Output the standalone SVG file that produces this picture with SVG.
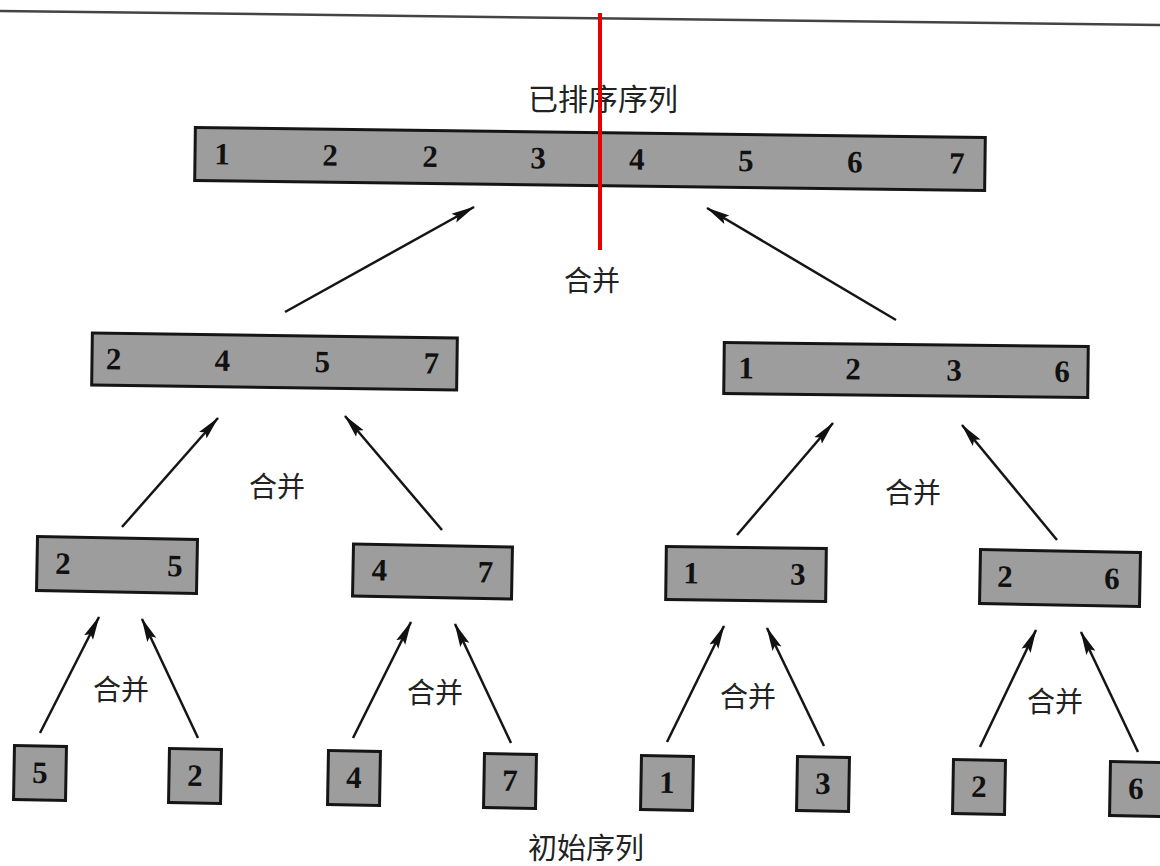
<svg xmlns="http://www.w3.org/2000/svg" width="1160" height="866" viewBox="0 0 1160 866">
  <defs>
    <marker id="head" viewBox="0 0 24 12" refX="23" refY="6" markerWidth="24" markerHeight="12" markerUnits="userSpaceOnUse" orient="auto">
      <path d="M0,1 L24,6 L0,11 L4,6 Z" fill="#111"/>
    </marker>
    <style>
      .box { fill: #9d9d9d; stroke: #151515; stroke-width: 3; }
      .num { font-family: "Liberation Serif", serif; font-weight: bold; font-size: 31px; fill: #111; text-anchor: middle; }
      .cap { font-family: "Noto Sans CJK SC", "Noto Sans", sans-serif; font-size: 28px; fill: #222; text-anchor: middle; }
      .edge { stroke: #151515; stroke-width: 2.5; fill: none; marker-end: url(#head); }
    </style>
  </defs>
  <rect width="1160" height="866" fill="#fff"/>

  <!-- page rule -->
  <line x1="0" y1="11" x2="1160" y2="25" stroke="#444" stroke-width="2.5"/>

  <!-- captions -->
  <text class="cap" x="603" y="110" style="font-size:30px">已排序序列</text>
  <text class="cap" x="592" y="291">合并</text>
  <text class="cap" x="277" y="497">合并</text>
  <text class="cap" x="913" y="503">合并</text>
  <text class="cap" x="121" y="700">合并</text>
  <text class="cap" x="435" y="703">合并</text>
  <text class="cap" x="748" y="707">合并</text>
  <text class="cap" x="1055" y="712">合并</text>
  <text class="cap" x="586" y="859" style="font-size:29px">初始序列</text>

  <!-- sorted sequence -->
  <g id="sorted" transform="translate(590,159) rotate(0.73)">
    <rect class="box" x="-395" y="-26.5" width="790" height="53"/>
    <text class="num" x="-368" y="10">1</text>
    <text class="num" x="-260" y="10">2</text>
    <text class="num" x="-160" y="10">2</text>
    <text class="num" x="-52" y="10">3</text>
    <text class="num" x="47" y="10">4</text>
    <text class="num" x="156" y="10">5</text>
    <text class="num" x="265" y="10">6</text>
    <text class="num" x="367" y="10">7</text>
  </g>

  <!-- second level -->
  <g id="m2457" transform="translate(274.5,361.5) rotate(0.78)">
    <rect class="box" x="-182.5" y="-26" width="365" height="52"/>
    <text class="num" x="-161" y="10">2</text>
    <text class="num" x="-52" y="10">4</text>
    <text class="num" x="48" y="10">5</text>
    <text class="num" x="157" y="10">7</text>
  </g>
  <g id="m1236" transform="translate(906,370) rotate(0.63)">
    <rect class="box" x="-182" y="-25.5" width="364" height="51"/>
    <text class="num" x="-160" y="10">1</text>
    <text class="num" x="-53" y="10">2</text>
    <text class="num" x="48" y="10">3</text>
    <text class="num" x="156" y="10">6</text>
  </g>

  <!-- third level -->
  <g id="m25" transform="translate(117,565) rotate(1.07)">
    <rect class="box" x="-80" y="-27" width="160" height="54"/>
    <text class="num" x="-54" y="10">2</text>
    <text class="num" x="58" y="10">5</text>
  </g>
  <g id="m47" transform="translate(432.5,571.5) rotate(1.07)">
    <rect class="box" x="-79.5" y="-26" width="159" height="52"/>
    <text class="num" x="-53" y="10">4</text>
    <text class="num" x="53" y="10">7</text>
  </g>
  <g id="m13" transform="translate(746,574) rotate(0.72)">
    <rect class="box" x="-80" y="-26.5" width="160" height="53"/>
    <text class="num" x="-55" y="10">1</text>
    <text class="num" x="52" y="10">3</text>
  </g>
  <g id="m26" transform="translate(1060,578) rotate(1.07)">
    <rect class="box" x="-80" y="-27" width="160" height="54"/>
    <text class="num" x="-55" y="10">2</text>
    <text class="num" x="52" y="10">6</text>
  </g>

  <!-- initial sequence -->
  <g id="leaf5" transform="translate(40,773) rotate(1)">
    <rect class="box" x="-26" y="-27" width="52" height="54"/>
    <text class="num" x="0" y="10">5</text>
  </g>
  <g id="leaf2a" transform="translate(195,776) rotate(1)">
    <rect class="box" x="-26" y="-27" width="52" height="54"/>
    <text class="num" x="0" y="10">2</text>
  </g>
  <g id="leaf4" transform="translate(354,778) rotate(1)">
    <rect class="box" x="-26" y="-27" width="52" height="54"/>
    <text class="num" x="0" y="10">4</text>
  </g>
  <g id="leaf7" transform="translate(510,781) rotate(1)">
    <rect class="box" x="-26" y="-27" width="52" height="54"/>
    <text class="num" x="0" y="10">7</text>
  </g>
  <g id="leaf1" transform="translate(667,783) rotate(1)">
    <rect class="box" x="-26" y="-27" width="52" height="54"/>
    <text class="num" x="0" y="10">1</text>
  </g>
  <g id="leaf3" transform="translate(823,784) rotate(1)">
    <rect class="box" x="-26" y="-27" width="52" height="54"/>
    <text class="num" x="0" y="10">3</text>
  </g>
  <g id="leaf2b" transform="translate(979,787) rotate(1)">
    <rect class="box" x="-26" y="-27" width="52" height="54"/>
    <text class="num" x="0" y="10">2</text>
  </g>
  <g id="leaf6" transform="translate(1136,789) rotate(1)">
    <rect class="box" x="-26" y="-27" width="52" height="54"/>
    <text class="num" x="0" y="10">6</text>
  </g>

  <!-- merge arrows -->
  <g id="edges">
    <line class="edge" x1="285" y1="312" x2="474" y2="207"/>
    <line class="edge" x1="896" y1="320" x2="707" y2="208"/>
    <line class="edge" x1="122" y1="527" x2="218" y2="418"/>
    <line class="edge" x1="442" y1="530" x2="345" y2="416"/>
    <line class="edge" x1="737" y1="535" x2="833" y2="423"/>
    <line class="edge" x1="1057" y1="540" x2="962" y2="425"/>
    <line class="edge" x1="40" y1="733" x2="99" y2="617"/>
    <line class="edge" x1="198" y1="738" x2="142" y2="619"/>
    <line class="edge" x1="353" y1="738" x2="411" y2="622"/>
    <line class="edge" x1="511" y1="743" x2="455" y2="624"/>
    <line class="edge" x1="667" y1="742" x2="724" y2="626"/>
    <line class="edge" x1="824" y1="746" x2="767" y2="628"/>
    <line class="edge" x1="980" y1="747" x2="1036" y2="630"/>
    <line class="edge" x1="1138" y1="752" x2="1081" y2="632"/>
  </g>

  <!-- vertical red marker drawn on top of everything -->
  <line x1="600" y1="13" x2="600" y2="250" stroke="#e60000" stroke-width="4"/>
</svg>
